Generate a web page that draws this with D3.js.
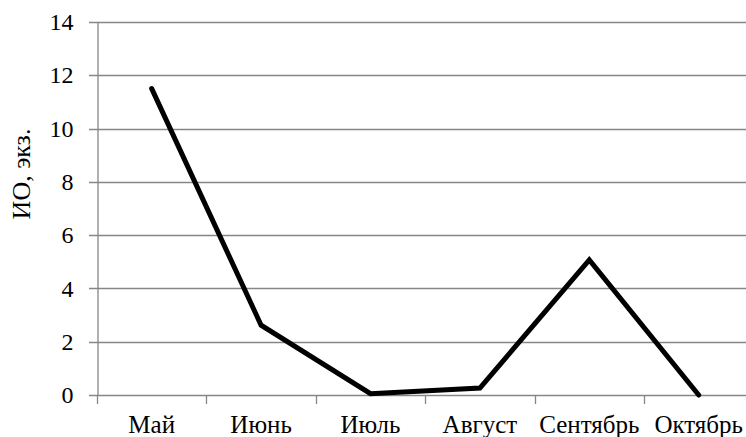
<!DOCTYPE html>
<html>
<head>
<meta charset="utf-8">
<script src="https://cdn.jsdelivr.net/npm/d3@7"></script>
<style>
  body { margin: 0; background: #fff; }
</style>
</head>
<body>
<div class="chart"></div>
<script>
const months = ['Май', 'Июнь', 'Июль', 'Август', 'Сентябрь', 'Октябрь']
const counts = [11.5, 2.62, 0.05, 0.26, 5.07, 0]
const yTicks = [0, 2, 4, 6, 8, 10, 12, 14]

const width = 746, height = 437
const serif = 'Liberation Serif'

const svg = d3.select('.chart')
    .append('svg')
    .attr('width', width)
    .attr('height', height)
    .attr('font-family', serif)

// scales
const xScale = d3.scaleBand()
    .domain(months)
    .range([97, 97 + 6 * 109.4])

const yScale = d3.scaleLinear()
    .domain([0, 14])
    .range([395, 22])

// gridlines
svg.append('g')
    .selectAll('line')
    .data(yTicks)
    .enter()
    .append('line')
        .attr('x1', 89)
        .attr('x2', width)
        .attr('y1', d => Math.round(yScale(d)) + 0.5)
        .attr('y2', d => Math.round(yScale(d)) + 0.5)
        .style('stroke', '#868686')
        .style('stroke-width', 1.3)

// y axis
const yAxis = svg.append('g')
    .attr('transform', 'translate(97.5, 0)')
    .call(d3.axisLeft(yScale).tickValues(yTicks).tickSize(0).tickPadding(24))
    .attr('font-family', serif)
    .attr('font-size', 24)
yAxis.select('.domain').style('stroke', '#868686').style('stroke-width', 1.3)
yAxis.selectAll('text')
    .style('font-family', serif)
    .style('font-size', '24px')
    .style('fill', '#000')

// x axis labels
const xAxis = svg.append('g')
    .attr('transform', `translate(0, ${Math.round(yScale(0)) + 0.5})`)
    .call(d3.axisBottom(xScale).tickSize(0).tickPadding(0))
    .attr('font-family', serif)
    .attr('font-size', 25)
xAxis.select('.domain').remove()
xAxis.selectAll('text')
    .attr('y', 37)
    .attr('dy', null)
    .style('font-family', serif)
    .style('font-size', '25px')
    .style('fill', '#000')

// x tick marks on band edges
svg.append('g')
    .selectAll('line')
    .data(months)
    .enter()
    .append('line')
        .attr('x1', d => Math.round(xScale(d)) + 0.5)
        .attr('x2', d => Math.round(xScale(d)) + 0.5)
        .attr('y1', Math.round(yScale(0)))
        .attr('y2', Math.round(yScale(0)) + 9)
        .style('stroke', '#868686')
        .style('stroke-width', 1.3)

// y axis title
svg.append('text')
    .attr('transform', 'rotate(-90)')
    .attr('x', -174)
    .attr('y', 30)
    .style('text-anchor', 'middle')
    .style('font-family', serif)
    .style('font-size', '26px')
    .text('ИО, экз.')

// line
const line = d3.line()
    .x((d, i) => xScale(months[i]) + xScale.bandwidth() / 2)
    .y(d => yScale(d))

svg.append('path')
    .datum(counts)
    .attr('d', line)
    .style('fill', 'none')
    .style('stroke', '#000')
    .style('stroke-width', 5)
    .style('stroke-linejoin', 'miter')
    .style('stroke-linecap', 'round')
</script>
</body>
</html>
